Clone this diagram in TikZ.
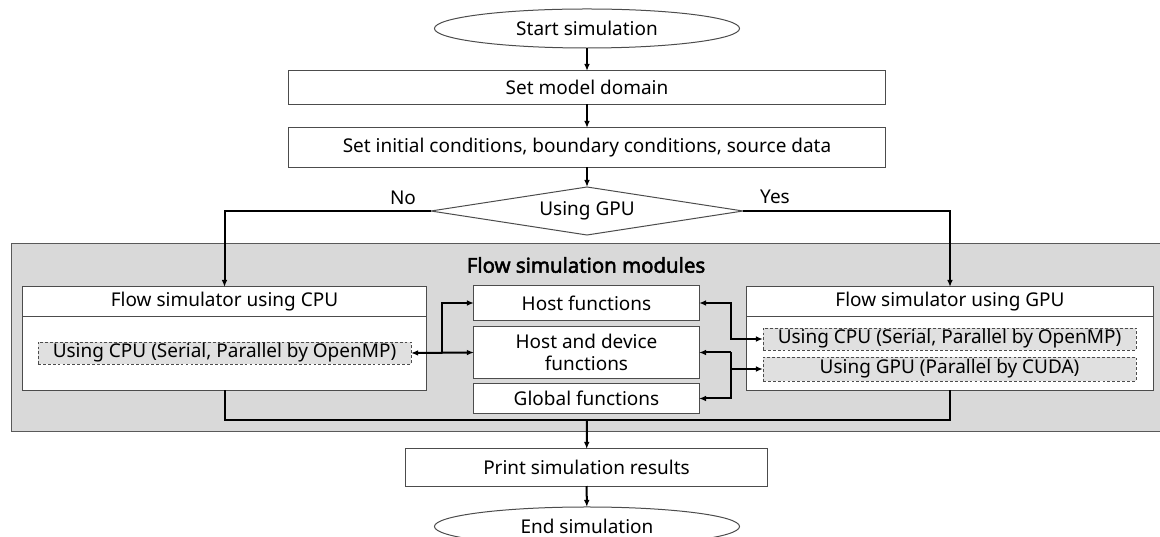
\documentclass[tikz,border=0pt]{standalone}
\usepackage{fontspec}
\setmainfont{Noto Sans}[AutoFakeBold=2.5]
\usetikzlibrary{shapes.geometric,arrows.meta}

\begin{document}
\begin{tikzpicture}[x=0.025cm,y=-0.025cm,line width=0.5mm,>={Latex[length=5pt,width=4pt]}]
\tikzstyle{every node}=[font=\fontsize{13.5}{16}\selectfont,inner sep=0pt,outer sep=0pt]
\tikzstyle{box}=[rectangle,draw=black!70,line width=0.25mm,fill=white]
\tikzstyle{term}=[ellipse,draw=black!70,line width=0.25mm,fill=white,minimum width=7.625cm,minimum height=0.975cm]
\tikzstyle{inner}=[rectangle,draw=black!70,line width=0.2mm,dash pattern=on 2pt off 1.5pt,fill=black!12,minimum width=9.325cm]
\useasboundingbox (0,0) rectangle (1160,537);
% module area
\draw[line width=0.2mm,draw=black!65,fill=black!15] (11,243) rectangle (1165,431);
\node[font=\fontsize{14.5}{17}\selectfont\bfseries] (title) at (586,265) {Flow simulation modules};
% main flow
\node[term] (start) at (587,28.5) {Start simulation};
\node[box,minimum width=14.9cm,minimum height=0.825cm] (domain) at (587,87.5) {Set model domain};
\node[box,minimum width=14.9cm,minimum height=0.975cm] (init) at (587,147.5) {Set initial conditions, boundary conditions, source data};
\node[diamond,aspect=6.5,draw=black!70,line width=0.25mm,fill=white,minimum width=7.8cm,minimum height=1.2cm] (gpuq) at (587,211) {Using GPU};
\node (no) at (403,198) {No};
\node (yes) at (775,197) {Yes};
% simulators
\node[box,minimum width=10.075cm,minimum height=2.575cm] (cpu) at (224.5,338.5) {};
\node (cpuhead) at (224.5,302) {Flow simulator using CPU};
\draw[line width=0.25mm,black!70] (cpu.west |- 0,317) -- (cpu.east |- 0,317);
\node[inner,minimum height=0.55cm] (cpuin) at (224.5,353) {Using CPU (Serial, Parallel by OpenMP)};
\node[box,minimum width=10.15cm,minimum height=2.575cm] (gpu) at (950,338.5) {};
\node (gpuhead) at (950,302) {Flow simulator using GPU};
\draw[line width=0.25mm,black!70] (gpu.west |- 0,317) -- (gpu.east |- 0,317);
\node[inner,minimum height=0.55cm] (gpucpu) at (949.5,339) {Using CPU (Serial, Parallel by OpenMP)};
\node[inner,minimum height=0.6cm] (gpugpu) at (949.5,369) {Using GPU (Parallel by CUDA)};
% functions
\node[box,minimum width=5.625cm,minimum height=0.85cm] (host) at (586.5,303) {Host functions};
\node[box,minimum width=5.625cm,minimum height=1.275cm,align=center] (hostdev) at (586.5,352.5) {Host and device\\functions};
\node[box,minimum width=5.625cm,minimum height=0.725cm] (global) at (586.5,398.5) {Global functions};
\node[box,minimum width=9.025cm,minimum height=0.925cm] (print) at (586.5,467.5) {Print simulation results};
\node[term] (end) at (587,526.5) {End simulation};
\coordinate (lx) at (442,0);
\coordinate (rx) at (731,0);
\coordinate (merge) at (587,420);
% connectors
\draw[->] (start) -- (domain);
\draw[->] (domain) -- (init);
\draw[->] (init) -- (gpuq);
\draw[->] (gpuq.west) -| (cpu.north);
\draw[->] (gpuq.east) -| (gpu.north);
\draw[<->] (cpuin.east) -- (hostdev.west);
\draw[->] (cpuin.east -| lx) |- (host.west);
\draw[<->] (host.east) -- (host.east -| rx) |- (gpucpu.west);
\draw[->] (gpugpu.west -| rx) -- (gpugpu.west);
\draw[->] (hostdev.east -| rx) -- (hostdev.east);
\draw[->] (hostdev.east -| rx) |- (global.east);
\draw (cpu.south) |- (merge) -| (gpu.south);
\draw[->] (merge) -- (print);
\draw[->] (print) -- (end);
\end{tikzpicture}
\end{document}
